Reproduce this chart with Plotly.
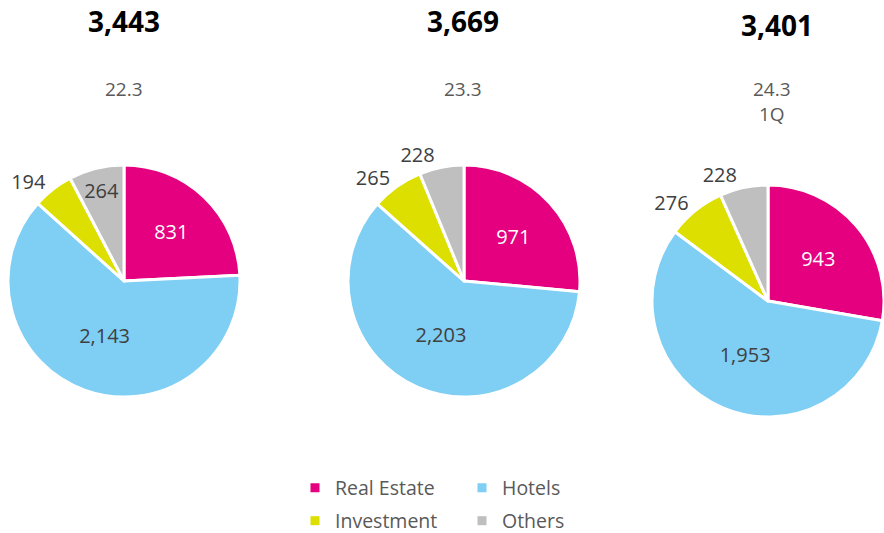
import plotly.graph_objects as go

W, H = 884, 533

segments = ["Real Estate", "Hotels", "Investment", "Others"]
colors = ["#E4007F", "#7FCEF4", "#DCDF00", "#BFBFBF"]

totals = ["3,443", "3,669", "3,401"]
periods = ["22.3", "23.3", "24.3<br>1Q"]

pie1 = [831, 2143, 194, 264]
pie2 = [971, 2203, 265, 228]
pie3 = [943, 1953, 276, 228]
pies = [pie1, pie2, pie3]

# label placement per slice; a pie may be drawn as identical stacked layers
# so that its outside labels are not pushed around by each other
label_layers = [
    [["inside", "inside", "outside", "inside"]],
    [["inside", "inside", "outside", "none"], ["inside", "inside", "none", "outside"]],
    [["inside", "inside", "outside", "none"], ["inside", "inside", "none", "outside"]],
]

# pie boxes in pixels: (left, right, top, bottom)
boxes = [(8, 240, 165, 397), (348, 580, 165, 397), (652, 884, 185, 417)]
title_x = [124, 463, 777]
title_top = [0, 0, 4]
period_x = [124, 463, 772]

FONT = "Open Sans"
fig = go.Figure()

for vals, layers, (l, r, t, b) in zip(pies, label_layers, boxes):
    for pos in layers:
        fig.add_trace(go.Pie(
            labels=segments, values=vals, sort=False, direction="clockwise", rotation=0,
            marker=dict(colors=colors, line=dict(color="white", width=3)),
            texttemplate="%{value:,}", textposition=pos,
            insidetextorientation="horizontal",
            insidetextfont=dict(color=["white", "#404040", "#404040", "#404040"], size=20, family=FONT),
            outsidetextfont=dict(color="#404040", size=20, family=FONT),
            domain=dict(x=[l / W, r / W], y=[1 - b / H, 1 - t / H]),
            showlegend=False, hoverinfo="label+value",
        ))

# legend entries (two rows, two legends)
for i, (name, col) in enumerate(zip(segments, colors)):
    fig.add_trace(go.Scatter(
        x=[None], y=[None], mode="markers", name=name,
        marker=dict(symbol="square", size=9, color=col),
        legend="legend" if i < 2 else "legend2",
    ))

annotations = []
for tx, tt, px, tot, per in zip(title_x, title_top, period_x, totals, periods):
    annotations.append(dict(x=tx / W, y=1 - tt / H, xref="paper", yref="paper",
                            text="<b>" + tot + "</b>", showarrow=False,
                            font=dict(size=28, color="black", family=FONT),
                            xanchor="center", yanchor="top"))
    annotations.append(dict(x=px / W, y=1 - 74 / H, xref="paper", yref="paper",
                            text=per, showarrow=False,
                            font=dict(size=19, color="#595959", family=FONT),
                            xanchor="center", yanchor="top"))

legend_common = dict(orientation="h", xanchor="left", yanchor="middle",
                     font=dict(size=19.5, color="#595959", family=FONT),
                     entrywidth=122, bgcolor="rgba(0,0,0,0)", itemclick=False)

fig.update_layout(
    width=W, height=H,
    margin=dict(l=0, r=0, t=0, b=0, autoexpand=False),
    paper_bgcolor="white", plot_bgcolor="white",
    xaxis=dict(visible=False), yaxis=dict(visible=False),
    annotations=annotations,
    legend=dict(x=295 / W, y=1 - 488 / H, **legend_common),
    legend2=dict(x=295 / W, y=1 - 521 / H, **legend_common),
    font=dict(family=FONT),
)

fig.write_html("out.html", config={"displayModeBar": False},
               post_script="document.body.style.margin='0';")
